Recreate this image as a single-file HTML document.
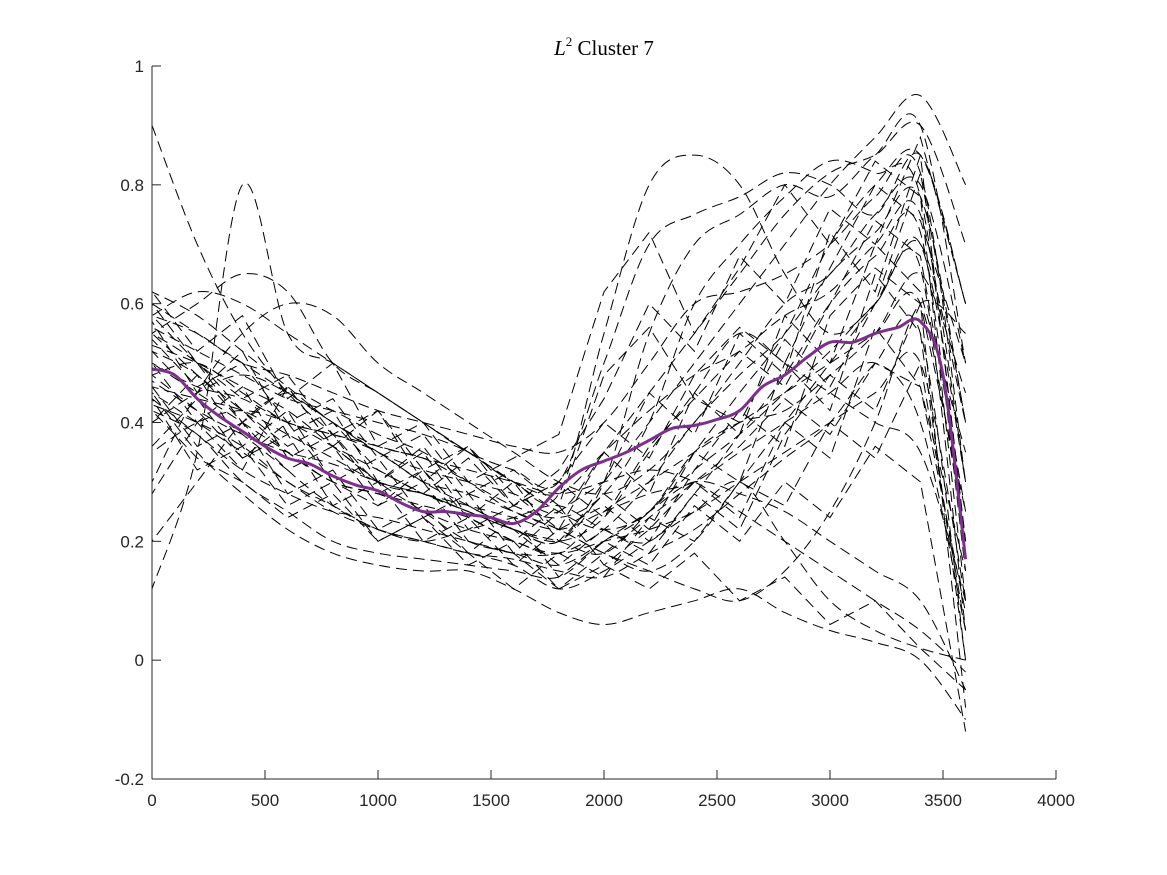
<!DOCTYPE html>
<html><head><meta charset="utf-8">
<style>
html,body{margin:0;padding:0;background:#fff;}
svg{display:block;}
text{font-family:"Liberation Sans",Arial,sans-serif;font-size:17px;fill:#262626;}
.title{font-family:"Liberation Serif",serif;font-size:21px;fill:#000;}
</style></head>
<body>
<svg id="chart" width="1167" height="875" viewBox="0 0 1167 875">
<rect width="1167" height="875" fill="#fff"/>
<g id="curves"></g>
<g id="mean"></g>
<g id="axes"></g>
<text class="title" x="604" y="55" text-anchor="middle"><tspan font-style="italic">L</tspan><tspan font-size="13" dy="-9">2</tspan><tspan dy="9"> Cluster 7</tspan></text>
</svg>
<script>
const xTicks=[0,500,1000,1500,2000,2500,3000,3500,4000];
const yTicks=[-0.2,0,0.2,0.4,0.6,0.8,1];
const yTickLabels=["-0.2","0","0.2","0.4","0.6","0.8","1"];
const curveX=[0,200,400,600,800,1000,1200,1400,1600,1800,2000,2200,2400,2600,2800,3000,3200,3400,3600];
const c1=[0.90,0.70,0.55,0.45,0.38,0.30,0.28,0.25,0.22,0.20,0.30,0.55,0.70,0.75,0.80,0.78,0.85,0.90,0.50];
const c2=[0.12,0.35,0.80,0.55,0.50,0.45,0.40,0.35,0.30,0.25,0.22,0.25,0.35,0.45,0.55,0.70,0.80,0.85,0.60];
const c3=[0.55,0.60,0.65,0.62,0.50,0.45,0.40,0.35,0.30,0.28,0.55,0.80,0.85,0.80,0.65,0.55,0.60,0.70,0.40];
const c4=[0.45,0.40,0.35,0.30,0.25,0.22,0.20,0.18,0.16,0.12,0.15,0.20,0.25,0.30,0.20,0.10,0.05,0.02,0.00];
const c5=[0.50,0.45,0.40,0.35,0.30,0.28,0.25,0.22,0.20,0.18,0.25,0.30,0.35,0.40,0.45,0.50,0.55,0.60,0.20];
const c6=[0.42,0.38,0.30,0.25,0.20,0.18,0.17,0.16,0.15,0.14,0.20,0.25,0.30,0.28,0.25,0.20,0.15,0.10,-0.05];
const c7=[0.60,0.55,0.50,0.45,0.40,0.35,0.32,0.30,0.28,0.25,0.35,0.45,0.55,0.65,0.75,0.82,0.85,0.90,0.70];
const c8=[0.48,0.50,0.45,0.40,0.38,0.35,0.30,0.28,0.25,0.22,0.18,0.15,0.20,0.30,0.40,0.50,0.60,0.70,0.30];
const c9=[0.30,0.45,0.55,0.60,0.58,0.50,0.45,0.40,0.35,0.30,0.28,0.32,0.40,0.50,0.60,0.65,0.75,0.80,0.50];
const c10=[0.55,0.50,0.42,0.35,0.30,0.28,0.26,0.24,0.20,0.18,0.20,0.22,0.25,0.30,0.35,0.40,0.45,0.50,0.10];
const c11=[0.45,0.35,0.28,0.22,0.18,0.16,0.15,0.15,0.12,0.08,0.06,0.08,0.10,0.12,0.08,0.05,0.03,0.00,-0.10];
const c12=[0.58,0.62,0.60,0.55,0.50,0.45,0.40,0.35,0.32,0.30,0.50,0.70,0.75,0.78,0.82,0.80,0.75,0.85,0.60];
const c13=[0.40,0.45,0.48,0.45,0.40,0.35,0.30,0.26,0.22,0.20,0.30,0.40,0.50,0.60,0.70,0.80,0.88,0.95,0.80];
const c14=[0.52,0.48,0.40,0.32,0.26,0.22,0.20,0.18,0.17,0.15,0.14,0.18,0.22,0.28,0.34,0.40,0.50,0.55,0.00];
const c15=[0.47,0.42,0.38,0.35,0.33,0.30,0.28,0.26,0.24,0.22,0.25,0.28,0.30,0.35,0.40,0.45,0.50,0.40,0.05];
const c16=[0.35,0.40,0.42,0.40,0.36,0.32,0.28,0.25,0.22,0.20,0.24,0.35,0.45,0.55,0.50,0.45,0.40,0.35,0.10];
const c17=[0.56,0.52,0.48,0.44,0.42,0.40,0.38,0.35,0.30,0.28,0.35,0.42,0.48,0.52,0.58,0.62,0.70,0.75,0.30];
const c18=[0.44,0.38,0.32,0.28,0.25,0.24,0.22,0.20,0.18,0.18,0.22,0.30,0.40,0.48,0.55,0.65,0.72,0.78,0.40];
const c19=[0.62,0.58,0.52,0.46,0.40,0.36,0.34,0.30,0.26,0.24,0.28,0.40,0.60,0.70,0.78,0.84,0.82,0.78,0.20];
const c20=[0.50,0.46,0.44,0.40,0.38,0.36,0.34,0.32,0.30,0.28,0.30,0.32,0.30,0.25,0.20,0.15,0.10,0.05,-0.02];
const c21=[0.20,0.30,0.40,0.45,0.42,0.38,0.35,0.30,0.25,0.22,0.18,0.15,0.12,0.10,0.15,0.25,0.40,0.60,0.55];
const c22=[0.58,0.55,0.50,0.48,0.45,0.42,0.40,0.38,0.36,0.35,0.40,0.50,0.60,0.62,0.65,0.70,0.78,0.82,0.30];
const c23=[0.43,0.40,0.36,0.30,0.26,0.22,0.20,0.22,0.24,0.26,0.22,0.20,0.28,0.38,0.48,0.60,0.68,0.72,0.15];
const c24=[0.53,0.50,0.46,0.42,0.36,0.30,0.25,0.20,0.18,0.16,0.20,0.25,0.35,0.40,0.42,0.48,0.55,0.65,0.45];
const c25=[0.46,0.44,0.42,0.38,0.34,0.30,0.28,0.25,0.22,0.20,0.18,0.25,0.32,0.38,0.45,0.52,0.60,0.66,0.05];
const c26=[0.57,0.45,0.52,0.38,0.42,0.30,0.35,0.24,0.30,0.20,0.28,0.22,0.35,0.30,0.50,0.42,0.65,0.55,0.00];
const c27=[0.40,0.48,0.36,0.42,0.30,0.34,0.24,0.28,0.18,0.25,0.30,0.45,0.38,0.55,0.48,0.72,0.62,0.85,0.20];
const c28=[0.62,0.52,0.58,0.44,0.50,0.36,0.40,0.30,0.34,0.38,0.62,0.72,0.55,0.66,0.80,0.70,0.84,0.78,0.10];
const c29=[0.46,0.36,0.40,0.28,0.32,0.22,0.26,0.18,0.24,0.14,0.20,0.16,0.26,0.20,0.30,0.24,0.36,0.30,-0.12];
const c30=[0.52,0.44,0.34,0.38,0.26,0.30,0.20,0.24,0.16,0.22,0.35,0.28,0.45,0.38,0.58,0.50,0.70,0.62,0.35];
const c31=[0.28,0.40,0.32,0.46,0.36,0.42,0.30,0.36,0.26,0.32,0.44,0.60,0.52,0.68,0.60,0.76,0.70,0.88,0.60];
const c32=[0.44,0.32,0.36,0.26,0.30,0.20,0.24,0.16,0.20,0.12,0.16,0.12,0.18,0.10,0.14,0.06,0.10,0.02,-0.05];
const c33=[0.58,0.50,0.44,0.48,0.38,0.42,0.32,0.36,0.28,0.22,0.26,0.20,0.32,0.42,0.36,0.58,0.66,0.60,0.25];
const c34=[0.50,0.40,0.46,0.34,0.38,0.28,0.32,0.22,0.26,0.30,0.40,0.34,0.48,0.56,0.50,0.66,0.80,0.74,0.50];
const c35=[0.36,0.44,0.38,0.32,0.36,0.26,0.30,0.20,0.18,0.12,0.18,0.24,0.20,0.30,0.26,0.40,0.34,0.50,0.05];
const c36=[0.54,0.46,0.50,0.40,0.44,0.34,0.38,0.28,0.32,0.26,0.48,0.56,0.44,0.40,0.54,0.46,0.60,0.82,0.40];
const c37=[0.48,0.42,0.34,0.40,0.30,0.26,0.32,0.24,0.20,0.26,0.16,0.22,0.30,0.24,0.40,0.34,0.56,0.46,0.15];
const c38=[0.60,0.50,0.40,0.46,0.36,0.30,0.36,0.26,0.22,0.16,0.22,0.18,0.28,0.22,0.38,0.48,0.42,0.60,-0.08];
const c39=[0.42,0.34,0.30,0.24,0.28,0.20,0.24,0.18,0.12,0.18,0.14,0.24,0.30,0.36,0.44,0.38,0.50,0.46,0.08];
const c40=[0.55,0.48,0.42,0.36,0.40,0.32,0.28,0.34,0.26,0.30,0.24,0.36,0.44,0.52,0.46,0.60,0.74,0.68,0.25];
const meanX=[0,100,200,300,400,500,600,700,800,900,1000,1100,1200,1300,1400,1500,1600,1700,1800,1900,2000,2100,2200,2300,2400,2500,2600,2700,2800,2900,3000,3100,3200,3300,3400,3500,3600];
const meanY=[0.49,0.48,0.44,0.41,0.385,0.36,0.34,0.33,0.31,0.295,0.285,0.265,0.25,0.25,0.245,0.24,0.23,0.25,0.29,0.32,0.335,0.35,0.37,0.39,0.395,0.405,0.42,0.46,0.48,0.51,0.535,0.535,0.55,0.56,0.57,0.48,0.17];
const smoothCurves=[c1,c2,c3,c4,c5,c6,c7,c8,c9,c10,c11,c12,c13,c14,c15,c16,c17,c18,c19,c20,c21,c22,c23,c24,c25];
const jaggedCurves=[c26,c27,c28,c29,c30,c31,c32,c33,c34,c35,c36,c37,c38,c39,c40];

const X0=152,X1=1056,Y0=779,Y1=66;
function sx(v){return X0+(v-0)/(4000-0)*(X1-X0);}
function sy(v){return Y0-(v-(-0.2))/(1-(-0.2))*(Y0-Y1);}
const NS="http://www.w3.org/2000/svg";
function smoothPath(xs,ys){
  const p=xs.map((x,i)=>[sx(x),sy(ys[i])]);
  let d="M"+p[0][0].toFixed(1)+","+p[0][1].toFixed(1);
  for(let i=0;i<p.length-1;i++){
    const a=p[i-1]||p[i],b=p[i],c=p[i+1],e=p[i+2]||c;
    const c1x=b[0]+(c[0]-a[0])/6,c1y=b[1]+(c[1]-a[1])/6;
    const c2x=c[0]-(e[0]-b[0])/6,c2y=c[1]-(e[1]-b[1])/6;
    d+=" C"+c1x.toFixed(1)+","+c1y.toFixed(1)+" "+c2x.toFixed(1)+","+c2y.toFixed(1)+" "+c[0].toFixed(1)+","+c[1].toFixed(1);
  }
  return d;
}
function linePath(xs,ys){
  return xs.map((x,i)=>(i?"L":"M")+sx(x).toFixed(1)+","+sy(ys[i]).toFixed(1)).join(" ");
}
const gC=document.getElementById("curves");
function addCurve(d,i){
  const el=document.createElementNS(NS,"path");
  
  
  el.setAttribute("d",d);
  el.setAttribute("fill","none");el.setAttribute("stroke","#000");
  el.setAttribute("stroke-width","1");el.setAttribute("stroke-dasharray","11 6");
  el.setAttribute("stroke-dashoffset",String(i*3));
  gC.appendChild(el);
}
smoothCurves.forEach((c,i)=>addCurve(smoothPath(curveX,c),i));
jaggedCurves.forEach((c,i)=>addCurve(linePath(curveX,c),i+25));
const m=document.createElementNS(NS,"path");


m.setAttribute("d",smoothPath(meanX,meanY));
m.setAttribute("fill","none");m.setAttribute("stroke","#7E2F8E");m.setAttribute("stroke-width","3");
document.getElementById("mean").appendChild(m);

const gA=document.getElementById("axes");
function line(x1,y1,x2,y2,name){
  const l=document.createElementNS(NS,"line");
  
  
  l.setAttribute("x1",x1);l.setAttribute("y1",y1);l.setAttribute("x2",x2);l.setAttribute("y2",y2);
  l.setAttribute("stroke","#262626");l.setAttribute("stroke-width","1");
  gA.appendChild(l);
}
line(X0,Y1,X0,Y0,'y-axis');
line(X0,Y0,X1,Y0,'x-axis');
xTicks.forEach(v=>{
  line(sx(v),Y0,sx(v),Y0-9,'x-tick');
  const t=document.createElementNS(NS,"text");
  
  
  t.setAttribute("x",sx(v));t.setAttribute("y",Y0+27);t.setAttribute("text-anchor","middle");
  t.textContent=String(v);gA.appendChild(t);
});
yTicks.forEach((v,i)=>{
  line(X0,sy(v),X0+9,sy(v),'y-tick');
  const t=document.createElementNS(NS,"text");
  
  
  t.setAttribute("x",X0-8);t.setAttribute("y",sy(v)+6);t.setAttribute("text-anchor","end");
  t.textContent=yTickLabels[i];gA.appendChild(t);
});
</script>
</body></html>
